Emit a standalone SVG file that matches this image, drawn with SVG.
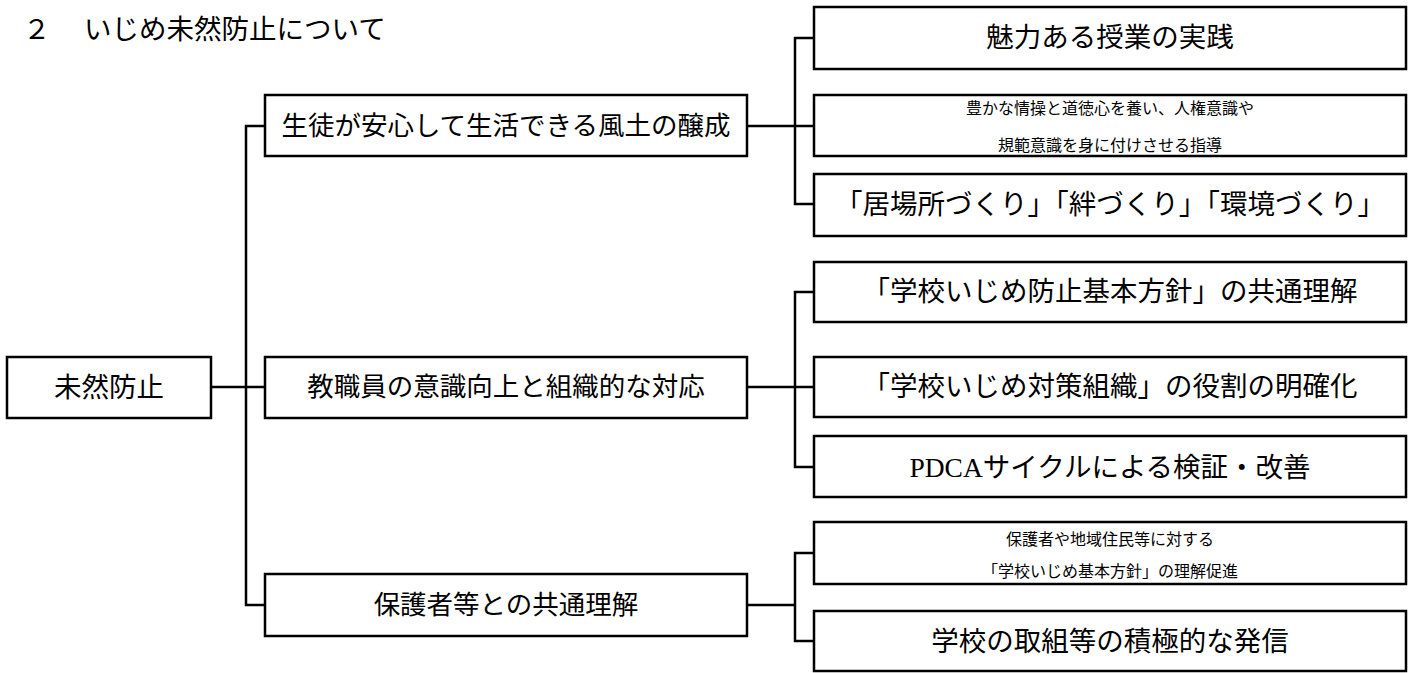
<svg xmlns="http://www.w3.org/2000/svg" width="1416" height="673" viewBox="0 0 1416 673">
<style>
.box{fill:#fff;stroke:#000;stroke-width:2.5}
.con{fill:none;stroke:#000;stroke-width:2.5}
.t{font-family:"Liberation Serif","Noto Sans CJK JP",serif;fill:#000;text-anchor:middle;dominant-baseline:central}
.l{font-size:27.5px}
.m{font-size:26.5px}
.s{font-size:16px}
.title{font-family:"Noto Sans CJK JP",sans-serif;font-size:27.5px;fill:#000;dominant-baseline:central}
</style>
<rect width="1416" height="673" fill="#fff"/>
<text class="title" x="23" y="27">２　<tspan x="84">いじめ未然防止について</tspan></text>
<g id="connectors">
<path class="con" d="M211 387 H265"/>
<path class="con" d="M265 126 H246 V605 H265"/>
<path class="con" d="M747 126 H814"/>
<path class="con" d="M814 38 H795 V204 H814"/>
<path class="con" d="M747 387 H814"/>
<path class="con" d="M814 292 H795 V467 H814"/>
<path class="con" d="M747 605 H795"/>
<path class="con" d="M814 553 H795 V641 H814"/>
</g>
<g id="root">
<rect class="box" x="7" y="357" width="204" height="61"/>
<text class="t l" x="109" y="387">未然防止</text>
</g>
<g id="n1">
<rect class="box" x="265" y="95" width="482" height="61"/>
<text class="t m" x="506" y="126">生徒が安心して生活できる風土の醸成</text>
</g>
<g id="n2">
<rect class="box" x="265" y="357" width="482" height="61"/>
<text class="t m" x="506" y="387">教職員の意識向上と組織的な対応</text>
</g>
<g id="n3">
<rect class="box" x="265" y="574" width="482" height="62"/>
<text class="t m" x="506" y="605">保護者等との共通理解</text>
</g>
<g id="n1a">
<rect class="box" x="814" y="7" width="592" height="62"/>
<text class="t l" x="1110" y="37">魅力ある授業の実践</text>
</g>
<g id="n1b">
<rect class="box" x="814" y="95" width="592" height="61"/>
<text class="t s" x="1110" y="108">豊かな情操と道徳心を養い、人権意識や</text>
<text class="t s" x="1110" y="145">規範意識を身に付けさせる指導</text>
</g>
<g id="n1c">
<rect class="box" x="814" y="174" width="592" height="62"/>
<text class="t l" x="1110" y="204">「居場所づくり」「絆づくり」「環境づくり」</text>
</g>
<g id="n2a">
<rect class="box" x="814" y="262" width="592" height="60"/>
<text class="t l" x="1110" y="291">「学校いじめ防止基本方針」の共通理解</text>
</g>
<g id="n2b">
<rect class="box" x="814" y="357" width="592" height="60"/>
<text class="t l" x="1110" y="386">「学校いじめ対策組織」の役割の明確化</text>
</g>
<g id="n2c">
<rect class="box" x="814" y="436" width="592" height="61"/>
<text class="t l" x="1110" y="467">PDCAサイクルによる検証・改善</text>
</g>
<g id="n3a">
<rect class="box" x="814" y="522" width="592" height="62"/>
<text class="t s" x="1110" y="539">保護者や地域住民等に対する</text>
<text class="t s" x="1110" y="571">「学校いじめ基本方針」の理解促進</text>
</g>
<g id="n3b">
<rect class="box" x="814" y="611" width="592" height="60"/>
<text class="t l" x="1110" y="641">学校の取組等の積極的な発信</text>
</g>
</svg>
